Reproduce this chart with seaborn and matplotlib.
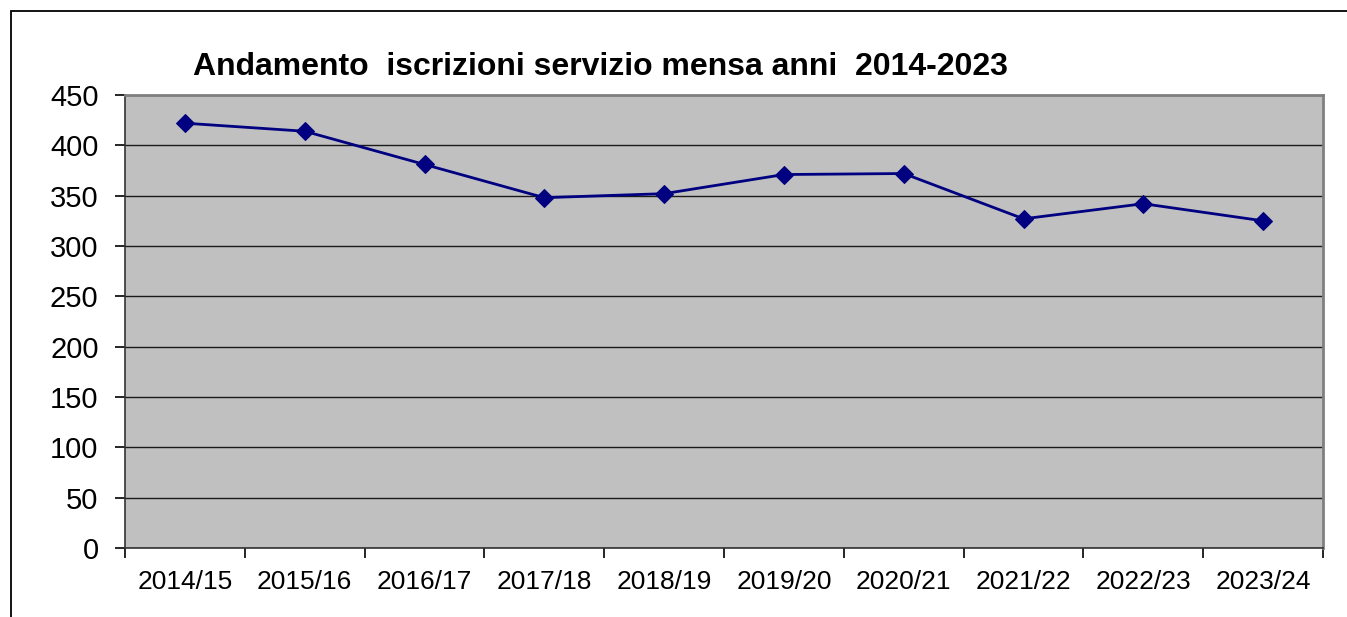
import matplotlib
matplotlib.use("Agg")
import pandas as pd
import seaborn as sns
import matplotlib.pyplot as plt
from matplotlib.patches import Rectangle

anni = ['2014/15', '2015/16', '2016/17', '2017/18', '2018/19',
        '2019/20', '2020/21', '2021/22', '2022/23', '2023/24']
iscritti = [422, 414, 381, 348, 352, 371, 372, 327, 342, 325]
y_ticks = [0, 50, 100, 150, 200, 250, 300, 350, 400, 450]

df = pd.DataFrame({'Anno': anni, 'Iscritti': iscritti})

sns.set_style('white')
plt.rcParams['font.family'] = ['Liberation Sans', 'DejaVu Sans']
plt.rcParams['text.color'] = 'black'
plt.rcParams['xtick.color'] = 'black'
plt.rcParams['ytick.color'] = 'black'

W, H = 1347, 617
fig = plt.figure(figsize=(W / 100, H / 100), dpi=100)
ax = fig.add_axes([125 / W, 1 - 548 / H, (1323 - 125) / W, (548 - 95) / H])
ax.set_facecolor('#c0c0c0')

sns.lineplot(data=df, x='Anno', y='Iscritti', ax=ax, color='#000080',
             marker='D', markersize=9, markeredgecolor='#000080',
             linewidth=2, sort=False)

ax.set_ylim(0, 450)
ax.set_yticks(y_ticks)
ax.set_xlim(-0.5, len(anni) - 0.5)
ax.set_xticks([i - 0.5 for i in range(len(anni) + 1)])
ax.set_xticklabels([])
ax.set_xticks(range(len(anni)), minor=True)
ax.set_xticklabels(anni, minor=True, fontsize=19)
ax.tick_params(axis='x', which='minor', bottom=False, length=0, pad=16)
ax.tick_params(axis='x', which='major', bottom=True, length=7, width=1.2,
               color='black', direction='out')
ax.tick_params(axis='y', left=True, length=7, width=1.2, color='black',
               direction='out', labelsize=21, pad=12)
ax.yaxis.grid(True, color='#1a1a1a', linewidth=1)
ax.set_axisbelow(True)
ax.set_xlabel('')
ax.set_ylabel('')
for s in ['left', 'bottom']:
    ax.spines[s].set_color('#333333')
    ax.spines[s].set_linewidth(1.2)
for s in ['top', 'right']:
    ax.spines[s].set_color('#808080')
    ax.spines[s].set_linewidth(2)

fig.text(600 / W, 1 - 67 / H, 'Andamento  iscrizioni servizio mensa anni  2014-2023',
         ha='center', va='center', fontsize=23, fontweight='bold')

# chart area border (left and top edges only visible)
fig.patches.append(Rectangle((11 / W, -0.1), 1.2, 1 - 11 / H + 0.1,
                             transform=fig.transFigure, fill=False,
                             edgecolor='black', linewidth=1.3))

fig.savefig('out.png', dpi=100)
